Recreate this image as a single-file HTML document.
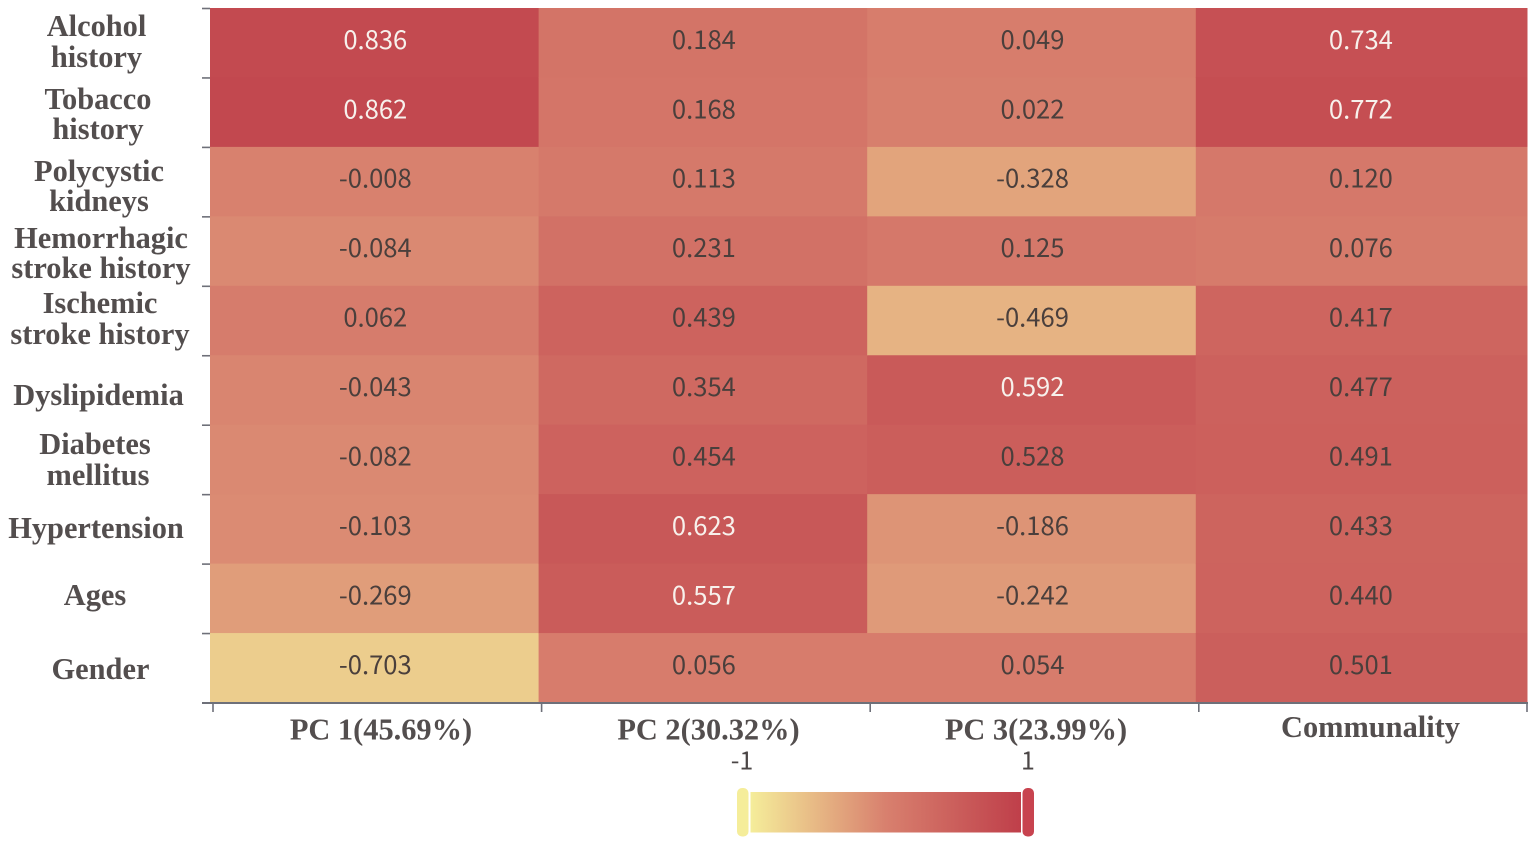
<!DOCTYPE html>
<html lang="en">
<head>
<meta charset="utf-8">
<title>Factor loading heatmap</title>
<style>
html,body{margin:0;padding:0;background:#fff;width:1535px;height:843px;overflow:hidden}
svg{display:block}
.axis-label{font-family:"Liberation Serif",serif;font-weight:700;fill:#534e4e;font-size:30.4px;text-anchor:middle}
.cell-value{font-family:"Noto Sans CJK SC","Liberation Sans",sans-serif;font-size:25.6px;text-anchor:middle;dominant-baseline:central}
.legend-text{font-family:"Noto Sans CJK SC","Liberation Sans",sans-serif;font-size:25px;fill:#4b4646;text-anchor:middle}
</style>
</head>
<body>
<svg id="chart" width="1535" height="843" viewBox="0 0 1535 843" xmlns="http://www.w3.org/2000/svg"></svg>
<script>
const rowLabels = [
  ["Alcohol", "history"],
  ["Tobacco", "history"],
  ["Polycystic", "kidneys"],
  ["Hemorrhagic", "stroke history"],
  ["Ischemic", "stroke history"],
  ["Dyslipidemia"],
  ["Diabetes", "mellitus"],
  ["Hypertension"],
  ["Ages"],
  ["Gender"]
];
const columnLabels = ["PC 1(45.69%)", "PC 2(30.32%)", "PC 3(23.99%)", "Communality"];
const pc1Values = [0.836, 0.862, -0.008, -0.084, 0.062, -0.043, -0.082, -0.103, -0.269, -0.703];
const pc2Values = [0.184, 0.168, 0.113, 0.231, 0.439, 0.354, 0.454, 0.623, 0.557, 0.056];
const pc3Values = [0.049, 0.022, -0.328, 0.125, -0.469, 0.592, 0.528, -0.186, -0.242, 0.054];
const communalityValues = [0.734, 0.772, 0.120, 0.076, 0.417, 0.477, 0.491, 0.433, 0.440, 0.501];
const legendMin = -1;
const legendMax = 1;

const svg = document.getElementById('chart');
const NS = 'http://www.w3.org/2000/svg';
const series = [pc1Values, pc2Values, pc3Values, communalityValues];

function node(tag, parent) {
  const el = document.createElementNS(NS, tag);
  parent.appendChild(el);
  return el;
}
function setAll(el, props) {
  for (const k in props) el.setAttribute(k, props[k]);
  return el;
}

/* axis functions */
const plotTop = 8, plotBottom = 702.5, plotLeft = 210, plotRight = 1527;
const xEdge = j => j < columnLabels.length ? plotLeft + j * 328.6 : plotRight;
const yEdge = i => plotTop + i * (plotBottom - plotTop) / rowLabels.length;

/* colour scale */
const lowColor = [245, 237, 154], midColor = [216, 128, 110], highColor = [191, 63, 74];
function colorFor(v) {
  const t = Math.min(1, Math.abs(v));
  const end = v < 0 ? lowColor : highColor;
  const c = midColor.map((m, k) => Math.round(m + (end[k] - m) * t));
  return 'rgb(' + c.join(',') + ')';
}

/* cells */
const cellGroup = node('g', svg);


series.forEach((values, j) => {
  values.forEach((v, i) => {
    const rect = node('rect', cellGroup);
    
    
    setAll(rect, {x: xEdge(j), y: yEdge(i), width: xEdge(j + 1) - xEdge(j) + 0.5, height: yEdge(i + 1) - yEdge(i) + 0.5, fill: colorFor(v)});
  });
});
series.forEach((values, j) => {
  values.forEach((v, i) => {
    const text = node('text', cellGroup);
    
    
    setAll(text, {class: 'cell-value', x: (xEdge(j) + xEdge(j + 1)) / 2 + (j === 3 ? -0.5 : 1), y: (yEdge(i) + yEdge(i + 1)) / 2 - 4.4, fill: v >= 0.55 ? '#f7f1ec' : '#4a3f3c'});
    text.textContent = v.toFixed(3);
  });
});

/* axis lines and ticks */
const axisGroup = node('g', svg);


const xAxisLine = node('line', axisGroup);


setAll(xAxisLine, {x1: 202, x2: plotRight + 1, y1: 703, y2: 703, stroke: '#6e7079', 'stroke-width': 2});
for (let j = 0; j <= columnLabels.length; j++) {
  const tick = node('line', axisGroup);
  
  
  const tx = j < columnLabels.length ? xEdge(j) + 3 : plotRight;
  setAll(tick, {x1: tx, x2: tx, y1: 703, y2: 712, stroke: '#6e7079', 'stroke-width': 1.6});
}
for (let i = 0; i < rowLabels.length; i++) {
  const tick = node('line', axisGroup);
  
  
  setAll(tick, {x1: 202, x2: plotLeft, y1: yEdge(i) + 0.5, y2: yEdge(i) + 0.5, stroke: '#6e7079', 'stroke-width': 1.6});
}

/* row labels: tuned to the hand-placed captions of the source figure */
const rowCaptionCenters = [[96.5, 96.5], [98, 98], [99, 99], [101, 101], [100, 100], [98.5], [95, 98], [96], [95], [100.5]];
const rowCaptionBaselines = [[36, 67], [109, 139], [181, 211], [248, 278], [313, 344], [405], [454, 485], [538], [605], [679]];
rowLabels.forEach((lines, i) => {
  lines.forEach((line, n) => {
    const t = node('text', svg);
    
    
    setAll(t, {class: 'axis-label', x: rowCaptionCenters[i][n], y: rowCaptionBaselines[i][n]});
    t.textContent = line;
  });
});

/* column labels */
const columnCaptionCenters = [381, 708.5, 1036, 1370.5];
const columnCaptionBaselines = [739.5, 739.5, 739.5, 737];
columnLabels.forEach((label, j) => {
  const t = node('text', svg);
  
  
  setAll(t, {class: 'axis-label', x: columnCaptionCenters[j], y: columnCaptionBaselines[j]});
  t.textContent = label;
});

/* legend */
const defs = node('defs', svg);
const grad = node('linearGradient', defs);
setAll(grad, {id: 'legendGradient', x1: 0, x2: 1, y1: 0, y2: 0});
[[0, legendMin], [0.5, (legendMin + legendMax) / 2], [1, legendMax]].forEach(pair => {
  const stop = node('stop', grad);
  setAll(stop, {offset: pair[0], 'stop-color': colorFor(pair[1])});
});
const legend = node('g', svg);


const legendBar = node('rect', legend);


setAll(legendBar, {x: 750.5, y: 792, width: 270.5, height: 40.5, fill: 'url(#legendGradient)'});
const leftHandle = node('rect', legend);


setAll(leftHandle, {x: 737, y: 788, width: 11.5, height: 48.5, rx: 5, fill: colorFor(legendMin)});
const rightHandle = node('rect', legend);


setAll(rightHandle, {x: 1022.5, y: 788, width: 11.5, height: 48.5, rx: 5, fill: '#c8434f'});
const minText = node('text', legend);


setAll(minText, {class: 'legend-text', x: 742, y: 769.5});
minText.textContent = String(legendMin);
const maxText = node('text', legend);


setAll(maxText, {class: 'legend-text', x: 1028, y: 769.5});
maxText.textContent = String(legendMax);
</script>
</body>
</html>
